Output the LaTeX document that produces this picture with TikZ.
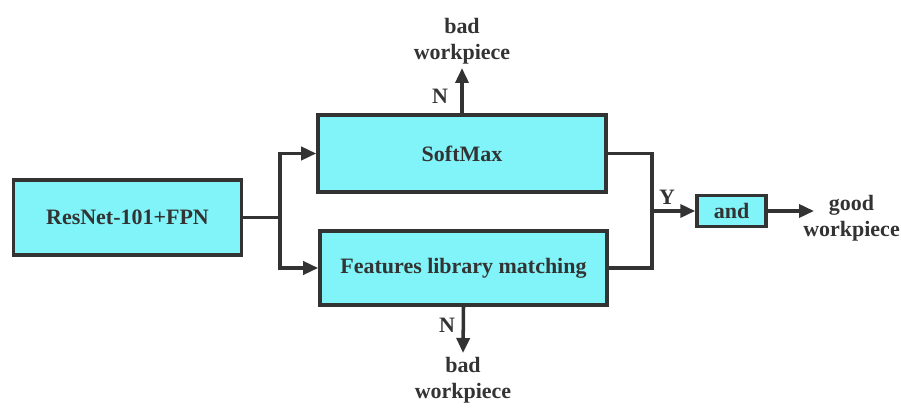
\documentclass[tikz,border=0pt]{standalone}
\usepackage{fontspec}
\setmainfont{Liberation Serif}
\usetikzlibrary{arrows.meta}

\definecolor{boxfill}{HTML}{80F4F8}
\definecolor{linegray}{HTML}{333333}

\tikzset{
    block/.style={draw=linegray, fill=boxfill, line width=2pt, inner sep=0pt},
    flow/.style={draw=linegray, line width=2pt},
    arr/.style={flow, -{Triangle[length=0.3cm, width=0.26cm]}},
    tag/.style={text=linegray, align=center, inner sep=2pt}
}

\begin{document}
\begin{tikzpicture}[font=\fontsize{12.5pt}{15pt}\selectfont\bfseries]
    \useasboundingbox (0,0) rectangle (18.02,-8.18);

    % Blocks
    \node[block, minimum width=4.56cm, minimum height=1.5cm, text=linegray] (resnet) at (2.55,-4.35) {ResNet-101+FPN};
    \node[block, minimum width=5.76cm, minimum height=1.54cm, text=linegray] (softmax) at (9.24,-3.07) {SoftMax};
    \node[block, minimum width=5.74cm, minimum height=1.48cm, text=linegray] (features) at (9.27,-5.36) {Features library matching};
    \node[block, minimum width=1.38cm, minimum height=0.62cm, text=linegray] (andgate) at (14.63,-4.22) {and};

    % Outputs
    \node[tag, anchor=south] (badtop) at (9.24,-1.36) {bad\\workpiece};
    \node[tag, anchor=north] (badbottom) at (9.26,-7.06) {bad\\workpiece};
    \node[tag, anchor=west, inner sep=0pt] (good) at (16.06,-4.36) {good\\workpiece};

    % Branch points
    \coordinate (split) at (5.6,-4.35);
    \coordinate (merge) at (13.04,-4.22);
    \coordinate (goodin) at (16.28,-4.22);

    % Connections
    \draw[flow] (resnet) -- (split);
    \draw[arr] (split) |- (softmax.west);
    \draw[arr] (split) |- (features.west);
    \draw[flow] (softmax.east) -| (merge);
    \draw[flow] (features.east) -| (merge);
    \draw[arr] (merge) -- (andgate.west);
    \draw[arr] (andgate.east) -- (goodin);
    \draw[arr] (softmax.north) -- (badtop.south);
    \draw[arr] (features.south) -- (badbottom.north);

    % Decision labels
    \node[tag] (ntop) at (8.8,-1.92) {N};
    \node[tag] (nbottom) at (8.94,-6.5) {N};
    \node[tag] (yes) at (13.34,-3.94) {Y};
\end{tikzpicture}
\end{document}
